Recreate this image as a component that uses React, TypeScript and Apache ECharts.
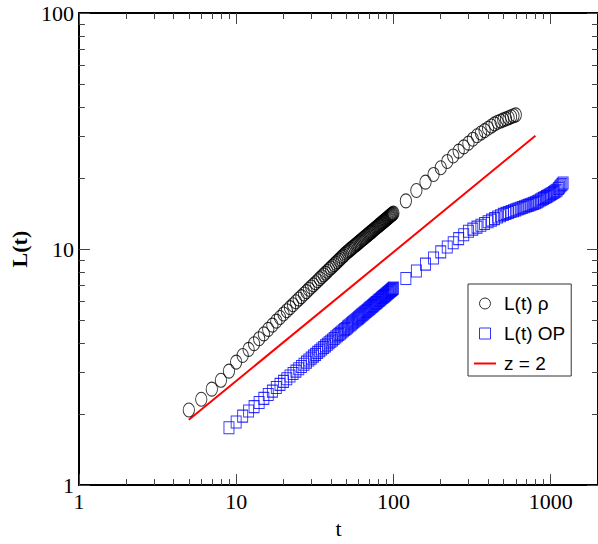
import React, { useEffect, useRef } from 'react';
import * as echarts from 'echarts';

// ---- data (log-log) ----
const rhoT = [
  5, 6, 7, 8, 9, 10, 11, 12, 13, 14, 15, 16, 17, 18, 19, 20,
  21, 22, 23, 24, 25, 26, 27, 28, 29, 30, 31, 32, 33, 34, 35, 36, 37, 38, 39, 40,
  41, 42, 43, 44, 45, 46, 47, 48, 49, 50, 51, 52, 53, 54, 55, 56, 57, 58, 59, 60,
  61, 62, 63, 64, 65, 66, 67, 68, 69, 70, 71, 72, 73, 74, 75, 76, 77, 78, 79, 80,
  81, 82, 83, 84, 85, 86, 87, 88, 89, 90, 91, 92, 93, 94, 95, 96, 97, 98, 99, 100,
  120, 140, 160, 180, 200, 220, 240, 260, 280, 300, 320, 340, 360, 380, 400,
  420, 440, 460, 480, 500, 520, 540, 560, 580, 600,
];
const rhoL = [
  2.08, 2.31, 2.55, 2.78, 3.04, 3.32,
  3.54, 3.76, 3.97, 4.17, 4.37, 4.57, 4.76, 4.95, 5.13, 5.31,
  5.48, 5.65, 5.81, 5.98, 6.14, 6.29, 6.45, 6.6, 6.76, 6.91,
  7.05, 7.2, 7.34, 7.49, 7.63, 7.77, 7.91, 8.05, 8.19, 8.32,
  8.45, 8.59, 8.72, 8.85, 8.98, 9.11, 9.24, 9.36, 9.49, 9.62,
  9.72, 9.83, 9.94, 10.04, 10.15, 10.25, 10.35, 10.45, 10.55, 10.65,
  10.75, 10.85, 10.95, 11.05, 11.14, 11.24, 11.33, 11.43, 11.52, 11.61,
  11.71, 11.8, 11.89, 11.98, 12.07, 12.16, 12.25, 12.34, 12.43, 12.52,
  12.6, 12.69, 12.78, 12.86, 12.95, 13.03, 13.12, 13.2, 13.29, 13.37,
  13.46, 13.54, 13.62, 13.71, 13.79, 13.87, 13.95, 14.03, 14.11, 14.19,
  16.0, 17.7, 19.2, 20.7, 22.1, 23.5, 24.8, 26.0, 27.1, 28.1, 29.2, 30.2,
  31.0, 31.75, 32.5, 33.2, 33.9, 34.45, 34.85, 35.24, 35.61, 35.98, 36.35, 36.69, 37.03,
];

const opT = [
  9, 10, 11, 12, 13, 14, 15, 16, 17, 18, 19, 20,
  21, 22, 23, 24, 25, 26, 27, 28, 29, 30, 31, 32, 33, 34, 35, 36, 37, 38, 39, 40,
  41, 42, 43, 44, 45, 46, 47, 48, 49, 50, 51, 52, 53, 54, 55, 56, 57, 58, 59, 60,
  61, 62, 63, 64, 65, 66, 67, 68, 69, 70, 71, 72, 73, 74, 75, 76, 77, 78, 79, 80,
  81, 82, 83, 84, 85, 86, 87, 88, 89, 90, 91, 92, 93, 94, 95, 96, 97, 98, 99, 100,
  120, 140, 160, 180, 200, 220, 240, 260, 280, 300, 320, 340, 360, 380, 400,
  420, 440, 460, 480, 500, 520, 540, 560, 580, 600, 620, 640, 660, 680, 700,
  720, 740, 760, 780, 800, 820, 840, 860, 880, 900, 920, 940, 960, 980, 1000,
  1020, 1040, 1060, 1080, 1100, 1120, 1140, 1160, 1180, 1200,
];
const opL = [
  1.75,
  1.85, 1.96, 2.06, 2.15, 2.24, 2.33, 2.42, 2.5, 2.59, 2.67,
  2.75, 2.82, 2.9, 2.97, 3.04, 3.11, 3.18, 3.25, 3.32, 3.39,
  3.45, 3.52, 3.58, 3.65, 3.71, 3.77, 3.83, 3.89, 3.95, 4.01,
  4.07, 4.12, 4.18, 4.24, 4.29, 4.35, 4.4, 4.45, 4.51, 4.56,
  4.61, 4.67, 4.72, 4.77, 4.82, 4.87, 4.92, 4.97, 5.02, 5.07,
  5.11, 5.16, 5.21, 5.26, 5.3, 5.35, 5.4, 5.44, 5.49, 5.53,
  5.58, 5.62, 5.67, 5.71, 5.76, 5.8, 5.85, 5.89, 5.93, 5.97,
  6.02, 6.06, 6.1, 6.14, 6.19, 6.23, 6.27, 6.31, 6.35, 6.39,
  6.43, 6.47, 6.51, 6.55, 6.59, 6.63, 6.67, 6.71, 6.75, 6.79, 6.83,
  7.5, 8.07, 8.63, 9.16, 9.73,
  10.2, 10.64, 11.07, 11.49, 11.89,
  12.14, 12.38, 12.61, 12.83, 13.05, 13.26, 13.46, 13.66, 13.84, 14.03,
  14.16, 14.29, 14.42, 14.54, 14.66, 14.77, 14.89, 15.0, 15.1, 15.21, 15.31, 15.41, 15.51, 15.61, 15.7,
  15.85, 15.99, 16.13, 16.27, 16.4, 16.54, 16.67, 16.8, 16.93, 17.06,
  17.2, 17.35, 17.5, 17.64, 17.78,
  18.04, 18.29, 18.55, 18.8, 19.05,
];

const fitT = [5, 800];
const fitL = [1.89, 30.2];

const xMajor = [1, 10, 100, 1000];
const xMinor = [2, 3, 4, 5, 6, 7, 8, 9, 20, 30, 40, 50, 60, 70, 80, 90, 200, 300, 400, 500, 600, 700, 800, 900];
const yMajor = [1, 10, 100];
const yMinor = [2, 3, 4, 5, 6, 7, 8, 9, 20, 30, 40, 50, 60, 70, 80, 90];

const SERIF = '"Liberation Serif", "Times New Roman", serif';
const SANS = '"Liberation Sans", Arial, sans-serif';
const ELLIPSE = 'path://M1,0C1,0.552 0.552,1 0,1C-0.552,1 -1,0.552 -1,0C-1,-0.552 -0.552,-1 0,-1C0.552,-1 1,-0.552 1,0Z';
const SQUARE = 'path://M0,0H10V10H0Z';
const BAR = 'path://M0,0H22V2H0Z';

const tickStyle = { color: '#444', width: 1 };
const lineStyleAxis = { color: '#000', width: 2 };

function axisBase(min: number, max: number, position: string, extra: any) {
  return {
    type: 'log',
    logBase: 10,
    min,
    max,
    position,
    gridIndex: 0,
    splitLine: { show: false },
    minorTick: { show: false },
    minorSplitLine: { show: false },
    axisLine: { show: false, onZero: false },
    axisLabel: { show: false },
    axisTick: { show: false },
    axisPointer: { show: false },
    ...extra,
  };
}

function buildOption() {
  const rho = rhoT.map((t, i) => [t, rhoL[i]]);
  const op = opT.map((t, i) => [t, opL[i]]);
  const fit = fitT.map((t, i) => [t, fitL[i]]);

  const xAxis = [
    axisBase(1, 2000, 'bottom', {
      axisLine: { show: true, onZero: false, lineStyle: lineStyleAxis },
      axisTick: { show: true, inside: true, length: 11, customValues: xMajor, lineStyle: tickStyle },
      axisLabel: {
        show: true, customValues: xMajor, formatter: (v: number) => String(v),
        fontFamily: SERIF, fontSize: 22, color: '#000', margin: 5,
      },
      name: 't', nameLocation: 'middle', nameGap: 28,
      nameTextStyle: { fontFamily: SERIF, fontSize: 22, color: '#000' },
    }),
    axisBase(1, 2000, 'bottom', {
      axisTick: { show: true, inside: true, length: 6, customValues: xMinor, lineStyle: tickStyle },
    }),
    axisBase(1, 2000, 'top', {
      axisLine: { show: true, onZero: false, lineStyle: lineStyleAxis },
      axisTick: { show: true, inside: true, length: 11, customValues: xMajor, lineStyle: tickStyle },
    }),
    axisBase(1, 2000, 'top', {
      axisTick: { show: true, inside: true, length: 6, customValues: xMinor, lineStyle: tickStyle },
    }),
  ];
  const yAxis = [
    axisBase(1, 100, 'left', {
      axisLine: { show: true, onZero: false, lineStyle: lineStyleAxis },
      axisTick: { show: true, inside: true, length: 11, customValues: yMajor, lineStyle: tickStyle },
      axisLabel: {
        show: true, customValues: yMajor, formatter: (v: number) => String(v),
        fontFamily: SERIF, fontSize: 22, color: '#000', margin: 5,
      },
      name: 'L(t)', nameLocation: 'middle', nameGap: 44,
      nameTextStyle: { fontFamily: SERIF, fontSize: 22, fontWeight: 'bold', color: '#000' },
    }),
    axisBase(1, 100, 'left', {
      axisTick: { show: true, inside: true, length: 6, customValues: yMinor, lineStyle: tickStyle },
    }),
    axisBase(1, 100, 'right', {
      axisLine: { show: true, onZero: false, lineStyle: lineStyleAxis },
      axisTick: { show: true, inside: true, length: 11, customValues: yMajor, lineStyle: tickStyle },
    }),
    axisBase(1, 100, 'right', {
      axisTick: { show: true, inside: true, length: 6, customValues: yMinor, lineStyle: tickStyle },
    }),
  ];

  return {
    animation: false,
    backgroundColor: '#fff',
    grid: { left: 74, top: 13, width: 525, height: 476, containLabel: false },
    xAxis,
    yAxis,
    legend: {
      orient: 'vertical',
      left: 468,
      top: 284,
      padding: [10, 6, 3, 6],
      itemGap: 11,
      itemWidth: 22,
      itemHeight: 11,
      backgroundColor: '#fff',
      borderColor: '#333',
      borderWidth: 1,
      borderRadius: 0,
      selectedMode: false,
      textStyle: { fontFamily: SANS, fontSize: 19, color: '#000', padding: [0, 0, 0, 3] },
      data: [
        { name: 'L(t) ρ', icon: ELLIPSE, itemStyle: { color: 'transparent', borderColor: '#000', borderWidth: 1 } },
        { name: 'L(t) OP', icon: SQUARE, itemStyle: { color: 'transparent', borderColor: '#0000ff', borderWidth: 1 } },
        { name: 'z = 2', icon: BAR, itemStyle: { color: '#ff0000', borderWidth: 0 } },
      ],
    },
    series: [
      {
        type: 'scatter', name: 'L(t) ρ', data: rho, xAxisIndex: 0, yAxisIndex: 0,
        symbol: ELLIPSE, symbolSize: [11.3, 14],
        itemStyle: { color: 'transparent', borderColor: '#000', borderWidth: 1 },
        emphasis: { disabled: true }, z: 3,
      },
      {
        type: 'scatter', name: 'L(t) OP', data: op, xAxisIndex: 0, yAxisIndex: 0,
        symbol: 'rect', symbolSize: [10, 12],
        itemStyle: { color: 'transparent', borderColor: '#0000ff', borderWidth: 1 },
        emphasis: { disabled: true }, z: 3,
      },
      {
        type: 'line', name: 'z = 2', data: fit, xAxisIndex: 0, yAxisIndex: 0,
        symbol: 'none', showSymbol: false,
        lineStyle: { color: '#ff0000', width: 2 },
        itemStyle: { color: '#ff0000' },
        emphasis: { disabled: true }, z: 2,
      },
    ],
  };
}

export default function App() {
  const ref = useRef<HTMLDivElement>(null);
  useEffect(() => {
    if (!ref.current) return;
    const chart = echarts.init(ref.current, undefined, { renderer: 'svg' });
    chart.setOption(buildOption() as any);
    return () => chart.dispose();
  }, []);
  return (
    <div
      ref={ref}
      style={{ position: 'fixed', left: 0, top: 0, width: 598, height: 544, background: '#fff' }}
    />
  );
}
